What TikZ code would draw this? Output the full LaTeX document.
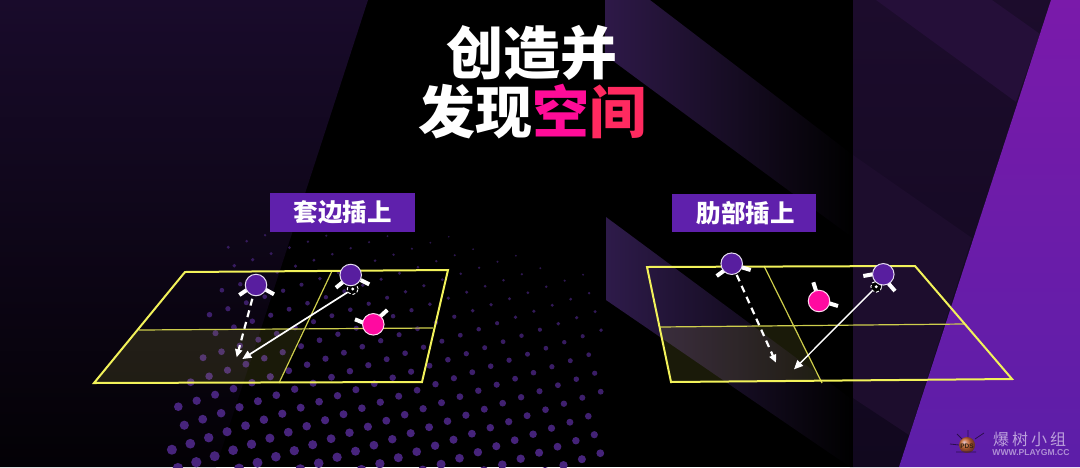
\documentclass[tikz,border=0pt]{standalone}
\usepackage{fontspec}
\usetikzlibrary{arrows.meta}
\setmainfont{Liberation Sans}
\newfontfamily\cjk[BoldFont=Noto Sans CJK SC Black]{Noto Sans CJK SC}
\definecolor{tagpurple}{HTML}{5F20AC}
\definecolor{playerpurple}{HTML}{581E9F}
\definecolor{fieldyellow}{HTML}{F2F25A}
\definecolor{pinkp}{HTML}{FF0AA0}
\definecolor{dotc}{HTML}{47247C}
\tikzset{
  fieldline/.style={draw=fieldyellow,line width=2pt,line join=miter},
  thinline/.style={draw=fieldyellow!85!black,line width=1.2pt},
  fieldshade/.style={fill=fieldyellow,fill opacity=.11},
  tagbox/.style={fill=tagpurple,text=white,inner sep=0pt,font=\cjk\bfseries\fontsize{24.5}{24.5}\selectfont},
  titletext/.style={text=white,inner sep=0pt,font=\cjk\bfseries\fontsize{57}{57}\selectfont},
  playerA/.style={circle,fill=playerpurple,draw=white!85!playerpurple,line width=1pt,minimum size=21.5pt,inner sep=0pt},
  playerB/.style={circle,fill=pinkp,draw=white!85!pinkp,line width=1pt,minimum size=21.5pt,inner sep=0pt},
  limb/.style={draw=white,line width=4pt},
  ballmark/.style={circle,fill=black,draw=white,line width=.9pt,densely dashed,minimum size=11pt,inner sep=0pt},
  runarrow/.style={draw=white,line width=2.2pt,dash pattern=on 7pt off 5pt,-{Triangle[length=8pt,width=7pt]}},
  passarrow/.style={draw=white,line width=1.7pt,-{Triangle[length=9pt,width=8pt]}},
}
\begin{document}
\begin{tikzpicture}[x=1pt,y=-1pt]
\useasboundingbox (0,0) rectangle (1080,467);
\fill[black] (0,0) rectangle (1080,467);
% left panel
\shade[top color={rgb,255:red,25;green,11;blue,43},middle color={rgb,255:red,16;green,8;blue,30},bottom color={rgb,255:red,3;green,1;blue,5}] (0,0) -- (368,0) -- (216,467) -- (0,467) -- cycle;
% diagonal bands
\shade[left color={rgb,255:red,46;green,25;blue,72},right color=black] (605,0) -- (650,0) -- (853,155) -- (853,238) -- (605,55) -- cycle;
\shade[left color={rgb,255:red,46;green,27;blue,74},right color=black] (606,217) -- (853,400) -- (853,467) -- (850,467) -- (606,300) -- cycle;
% right panel
\shade[top color={rgb,255:red,28;green,12;blue,44},bottom color={rgb,255:red,17;green,8;blue,30}] (853,0) -- (1052,0) -- (899,467) -- (853,467) -- cycle;
\fill[fill={rgb,255:red,37;green,15;blue,57}] (876,0) -- (992,0) -- (1040,34) -- (1016,102) -- cycle;
\fill[fill={rgb,255:red,29;green,13;blue,45}] (853,155) -- (972,238) -- (909,435) -- (853,398) -- cycle;
\shade[top color={rgb,255:red,122;green,26;blue,170},bottom color={rgb,255:red,92;green,30;blue,168}] (1051,0) -- (1080,0) -- (1080,467) -- (899,467) -- cycle;
% dot screen
\foreach \i in {-22,...,26}{
  \foreach \j in {-14,...,12}{
    \pgfmathsetmacro{\dx}{196.7+18.4*\i+6*\j}
    \pgfmathsetmacro{\dy}{400.7-6*\i+18.5*\j}
    \pgfmathtruncatemacro{\inside}{(\dx>232-(\dy-232)*.31)&&(\dx<603)&&(\dy>232)&&(\dy>232+(\dx-450)*.32)&&(\dy<476)?1:0}
    \ifnum\inside=1
      \pgfmathsetmacro{\dr}{max(.7,1.6+(\dy-235)/232*3.7-(\dx-170)/430*1.2)}
      \pgfmathsetmacro{\dop}{min(1,.5+\dr/8)}
      \fill[dotc,opacity=\dop] (\dx,\dy) circle[radius=\dr];
    \fi
  }
}
% left pitch
\fill[fieldshade] (139,330) -- (303,329) -- (279,383) -- (94,383) -- cycle;
\draw[thinline] (139,330) -- (433,328);
\draw[thinline] (332,271) -- (279,383);
\draw[fieldline] (185,272) -- (448,270) -- (422,382) -- (94,383) -- cycle;
% right pitch
\fill[fieldshade] (660,327) -- (793,325) -- (821,381) -- (671,382) -- cycle;
\draw[thinline] (660,327) -- (964,324);
\draw[thinline] (764,266) -- (822,383);
\draw[fieldline] (647,267) -- (915,266) -- (1012,379) -- (671,382) -- cycle;
% left players
\draw[limb] (239.3,295) -- (246.7,290);
\draw[limb] (265,289.3) -- (274,294.3);
\node[playerA] (la) at (256,285) {};
\draw[limb] (336,287.7) -- (343.3,281.7);
\draw[limb] (360.7,280) -- (369.3,284.3);
\node[ballmark] (lball) at (352.7,289) {};
\fill[white] (lball.center) circle[radius=1.6];
\node[playerA] (lb) at (350.7,275) {};
\draw[limb] (355,319.3) -- (363.3,322.7);
\draw[limb] (380,316.7) -- (387.3,310);
\node[playerB] (lc) at (373.3,324.3) {};
\coordinate (ltipa) at (236.7,357.3);
\coordinate (ltipb) at (242.3,359);
\draw[runarrow,shorten <=3pt] (la) -- (ltipa);
\draw[passarrow] (lball) -- (ltipb);
% right players
\draw[limb] (716.7,276) -- (724,270.7);
\draw[limb] (741.7,267.3) -- (750.7,270);
\node[playerA] (ra) at (731.7,263.7) {};
\draw[limb] (813.3,282.3) -- (816,290.7);
\draw[limb] (829.3,303.3) -- (838,306);
\node[playerB] (rc) at (819,301) {};
\draw[limb] (863.3,276) -- (872.7,274.3);
\draw[limb] (888.3,283.3) -- (895,291);
\node[ballmark] (rball) at (876.3,286.7) {};
\fill[white] (rball.center) circle[radius=1.6];
\node[playerA] (rb) at (883.3,274.3) {};
\coordinate (rtipa) at (776,362.7);
\coordinate (rtipb) at (794,369.3);
\draw[runarrow,shorten <=1pt] (ra) -- (rtipa);
\draw[passarrow,line width=1.4pt] (rball) -- (rtipb);
% labels
\node[tagbox,minimum width=145pt,minimum height=39pt] (tagl) at (342.5,212.5) {套边插上};
\node[tagbox,minimum width=144pt,minimum height=38pt] (tagr) at (743.5,213) {\hspace*{4pt}肋部插上};
\node[titletext] (t1) at (532,53) {创造并};
\node[titletext] (t2) at (532.5,112) {发现\textcolor[HTML]{FF0C98}{空}\textcolor[HTML]{FF2A60}{间}};
% watermark
\shade[ball color=orange!80!brown,opacity=.8] (967,445) circle[radius=8];
\draw[black!55!tagpurple,line width=.8pt] (957,434) -- (962,439) (968,430) -- (968,437) (975,439) -- (984,433) (950,444) -- (959,445) (956,452) -- (976,452);
\node[inner sep=0pt,text=black!75!brown,font=\bfseries\fontsize{6.5}{6.5}\selectfont] (wl) at (967,446) {PDS};
\node[inner sep=0pt,text=white!58!tagpurple,font=\cjk\fontsize{16}{16}\selectfont] (w1) at (1029.5,439) {爆\hspace{3pt}树\hspace{3pt}小\hspace{3pt}组};
\node[inner sep=0pt,text=white!50!tagpurple,font=\bfseries\fontsize{8.6}{8.6}\selectfont] (w2) at (1031,452.5) {WWW.PLAYGM.CC};
\end{tikzpicture}
\end{document}
